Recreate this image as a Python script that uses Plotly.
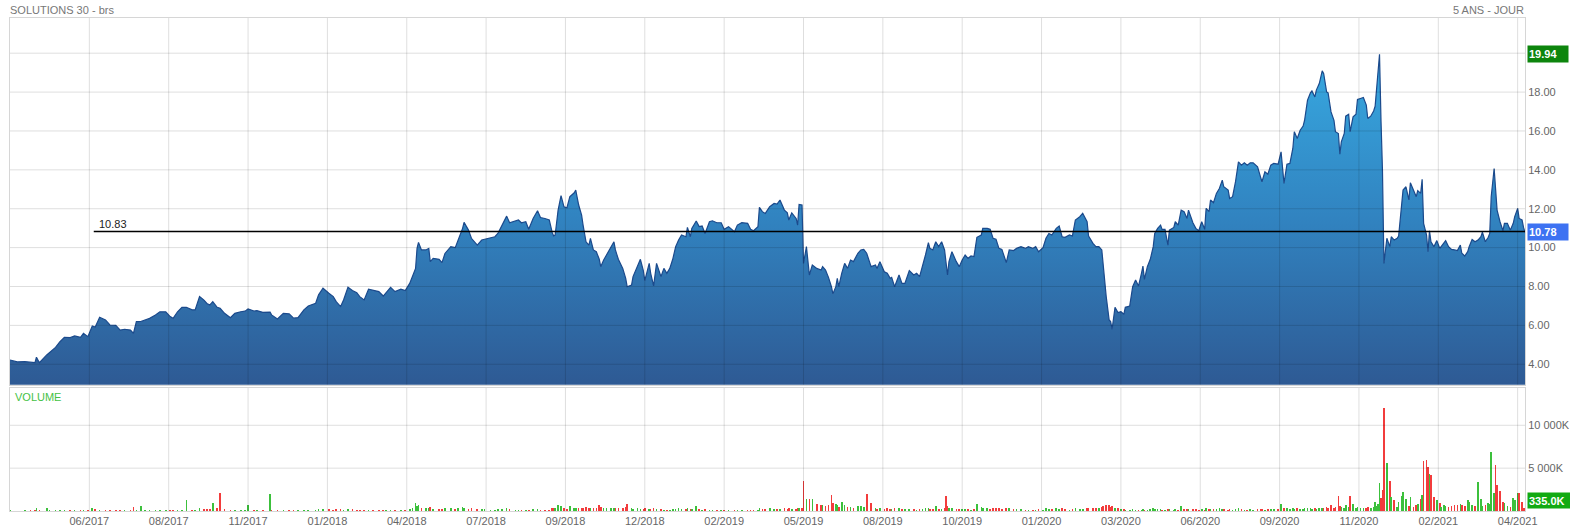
import plotly.graph_objects as go

# ---------------- data ----------------
session = [
    0, 5, 10, 14, 17, 18, 20, 25, 27, 31,
    34, 37, 41, 44, 48, 50, 53, 56, 58, 61,
    65, 68, 72, 75, 78, 82, 84, 86, 89, 92,
    95, 99, 102, 106, 109, 111, 114, 117, 120, 124,
    126, 129, 132, 134, 136, 138, 141, 143, 146, 150,
    153, 157, 160, 162, 166, 168, 172, 177, 178, 182,
    186, 190, 193, 196, 200, 203, 208, 210, 213, 217,
    220, 222, 225, 227, 230, 233, 236, 238, 241, 244,
    247, 251, 254, 256, 259, 262, 266, 269, 272, 274,
    276, 277, 278, 280, 283, 285, 286, 288, 292, 294,
    296, 300, 303, 305, 308, 309, 312, 314, 318, 321,
    323, 327, 330, 332, 335, 338, 340, 344, 346, 348,
    351, 353, 356, 359, 361, 364, 367, 369, 370, 371,
    373, 375, 377, 379, 381, 384, 385, 387, 389, 390,
    392, 394, 395, 397, 399, 401, 402, 404, 406, 409,
    411, 412, 414, 417, 419, 420, 423, 424, 427, 429,
    431, 432, 435, 436, 438, 440, 443, 445, 447, 449,
    451, 453, 455, 457, 460, 461, 463, 464, 467, 469,
    471, 473, 476, 478, 481, 484, 486, 489, 493, 495,
    498, 502, 504, 506, 509, 510, 512, 514, 517, 520,
    522, 524, 527, 529, 530, 532, 535, 536, 537, 539,
    540, 542, 544, 546, 549, 552, 553, 555, 557, 559,
    560, 562, 563, 564, 566, 568, 570, 572, 574, 577,
    579, 581, 583, 586, 589, 590, 592, 595, 597, 599,
    600, 602, 605, 607, 609, 612, 615, 617, 619, 621,
    623, 625, 626, 628, 630, 632, 634, 636, 637, 638,
    639, 641, 644, 646, 648, 650, 652, 654, 656, 658,
    661, 662, 665, 667, 669, 671, 673, 675, 678, 680,
    683, 685, 688, 691, 693, 696, 698, 700, 703, 705,
    707, 709, 712, 714, 716, 718, 721, 723, 725, 728,
    730, 733, 734, 737, 739, 741, 743, 744, 746, 748,
    749, 750, 752, 754, 756, 758, 759, 762, 764, 766,
    768, 770, 771, 772, 774, 776, 778, 779, 781, 783,
    784, 786, 788, 789, 792, 793, 795, 797, 799, 801,
    802, 805, 807, 809, 811, 813, 814, 816, 817, 819,
    821, 823, 825, 826, 829, 830, 832, 834, 836, 838,
    840, 842, 844, 846, 849, 851, 852, 854, 856, 858,
    860, 863, 865, 867, 869, 871, 873, 874, 876, 878,
    880, 881, 883, 885, 886, 888, 889, 891, 893, 894,
    896, 897, 899, 901, 902, 904, 905, 906, 908, 909,
    911, 912, 914, 916, 917, 919, 921, 923, 924, 926,
    928, 929, 930, 931, 932, 933, 934, 935, 937, 939,
    940, 942, 944, 945, 947, 948, 950, 952, 953, 955,
    957, 958, 960, 961, 962, 964, 965, 966, 967, 969,
    971, 973, 974, 976, 977, 979, 981, 983, 985, 987,
    988, 990, 992, 993, 995, 997, 999, 1001, 1002, 1004,
    1006, 1007, 1008, 1010, 1011, 1012, 1014, 1016, 1017, 1019,
    1021, 1023, 1024, 1026, 1027, 1029, 1030, 1031,
]

close = [
    4.22, 4.12, 4.14, 4.10, 4.08, 4.36, 4.08, 4.48, 4.60, 4.87,
    5.16, 5.39, 5.37, 5.46, 5.39, 5.59, 5.42, 5.97, 5.92, 6.42,
    6.28, 6.02, 6.00, 5.76, 5.80, 5.76, 5.59, 6.19, 6.20, 6.28,
    6.36, 6.53, 6.70, 6.70, 6.45, 6.36, 6.70, 6.93, 6.93, 6.80,
    6.80, 7.48, 7.30, 7.13, 7.05, 7.22, 6.93, 6.88, 6.62, 6.40,
    6.62, 6.70, 6.73, 6.85, 6.74, 6.76, 6.67, 6.68, 6.54, 6.33,
    6.62, 6.59, 6.37, 6.40, 6.80, 7.00, 7.14, 7.57, 7.91, 7.65,
    7.48, 7.22, 6.97, 7.31, 7.96, 7.79, 7.68, 7.48, 7.31, 7.86,
    7.82, 7.74, 7.51, 7.68, 7.96, 7.74, 7.86, 7.79, 8.16, 8.54,
    8.93, 9.96, 10.27, 9.88, 9.88, 9.96, 9.28, 9.45, 9.40, 9.23,
    9.70, 10.05, 10.00, 10.39, 10.99, 11.30, 10.90, 10.48, 10.13, 10.39,
    10.42, 10.48, 10.56, 10.73, 11.16, 11.62, 11.28, 11.37, 11.42, 11.28,
    11.33, 10.94, 11.50, 11.90, 11.55, 11.50, 11.42, 10.77, 10.60, 10.65,
    11.93, 12.67, 12.10, 12.05, 12.62, 12.82, 12.96, 12.19, 11.67, 11.16,
    10.30, 10.13, 10.48, 9.88, 9.79, 9.40, 9.02, 9.36, 9.62, 10.00,
    10.30, 9.88, 9.40, 8.93, 8.42, 7.99, 8.08, 8.51, 9.02, 9.40,
    8.82, 8.30, 9.19, 8.68, 8.03, 9.19, 8.51, 8.93, 8.68, 8.93,
    9.40, 10.05, 10.39, 10.65, 10.56, 11.04, 10.56, 10.99, 11.37, 11.08,
    11.11, 10.73, 11.33, 11.38, 11.28, 11.28, 10.94, 11.08, 10.82, 11.16,
    11.28, 11.25, 10.94, 10.87, 11.08, 12.07, 11.85, 11.76, 12.10, 12.27,
    12.24, 12.45, 11.93, 11.79, 11.42, 11.79, 11.50, 11.16, 12.22, 12.19,
    9.19, 10.05, 8.59, 9.11, 8.93, 8.85, 9.02, 8.85, 8.47, 7.99,
    7.62, 7.99, 8.42, 7.99, 8.68, 9.19, 8.93, 9.36, 9.28, 9.71,
    9.88, 9.91, 9.71, 9.02, 9.11, 8.93, 9.28, 8.76, 8.68, 8.42,
    8.47, 7.99, 8.59, 8.16, 8.16, 8.82, 8.59, 8.68, 8.51, 9.02,
    9.62, 10.25, 9.96, 9.88, 10.30, 10.05, 10.30, 9.88, 9.33, 8.59,
    9.28, 9.79, 9.28, 9.02, 9.36, 9.62, 9.45, 9.57, 9.54, 10.53,
    10.65, 10.99, 10.99, 10.94, 10.48, 10.43, 9.96, 9.91, 9.23, 9.88,
    9.85, 9.96, 10.05, 9.96, 10.05, 9.96, 10.05, 9.79, 10.00, 10.48,
    10.73, 10.65, 10.99, 11.11, 10.56, 10.53, 10.65, 10.60, 11.42, 11.59,
    11.76, 11.33, 10.60, 10.22, 10.05, 10.05, 9.88, 9.02, 7.48, 6.28,
    6.20, 5.80, 6.93, 6.66, 6.71, 6.57, 6.93, 7.00, 7.99, 8.34,
    8.03, 8.68, 9.05, 8.37, 9.02, 9.40, 10.05, 10.73, 10.99, 11.16,
    10.94, 10.94, 10.13, 10.90, 11.04, 11.33, 11.16, 11.93, 11.85, 11.50,
    11.93, 11.28, 10.99, 10.87, 11.33, 10.94, 12.02, 11.85, 12.45, 12.31,
    12.79, 13.04, 13.47, 13.13, 12.96, 12.53, 12.62, 13.39, 14.41, 14.24,
    14.36, 14.24, 14.36, 14.36, 14.16, 13.64, 13.39, 13.90, 13.78, 14.24,
    14.33, 14.29, 14.93, 13.30, 14.29, 14.33, 15.10, 15.96, 15.61, 16.04,
    16.25, 16.55, 17.58, 17.96, 18.06, 17.75, 18.10, 18.44, 19.09, 18.95,
    18.01, 17.96, 16.98, 16.55, 15.96, 15.87, 14.81, 15.44, 15.87, 16.76,
    16.86, 15.96, 16.73, 16.86, 17.62, 17.67, 17.72, 17.33, 16.64, 16.76,
    17.03, 17.27, 18.27, 19.16, 19.94, 16.55, 13.99, 9.19, 10.48, 10.05,
    10.56, 10.39, 10.48, 10.60, 12.36, 12.96, 13.13, 12.45, 13.34, 12.96,
    12.62, 12.93, 12.79, 13.51, 11.25, 10.65, 9.79, 10.87, 10.30, 10.05,
    10.36, 9.96, 10.05, 10.22, 10.36, 10.05, 9.91, 9.88, 9.85, 10.13,
    9.71, 9.57, 9.79, 10.05, 10.42, 10.30, 10.39, 10.56, 10.80, 10.30,
    10.53, 10.73, 12.62, 14.07, 13.04, 11.93, 11.33, 10.87, 11.25, 11.25,
    10.90, 11.25, 11.59, 12.02, 11.50, 11.42, 11.04, 10.78,
]

volume_k = [
    60, 50, 70, 60, 80, 390, 120, 350, 150, 90,
    110, 160, 90, 120, 80, 70, 90, 300, 250, 130,
    100, 80, 90, 70, 80, 90, 460, 120, 580, 90,
    80, 60, 70, 80, 90, 100, 120, 90, 1240, 100,
    150, 300, 200, 250, 200, 970, 300, 2090, 250, 150,
    120, 100, 100, 660, 150, 120, 100, 2000, 150, 100,
    120, 90, 80, 90, 100, 150, 120, 200, 250, 200,
    150, 180, 200, 150, 250, 200, 150, 120, 130, 150,
    100, 90, 80, 90, 110, 100, 90, 120, 200, 300,
    970, 600, 660, 400, 350, 300, 500, 250, 200, 250,
    400, 300, 250, 300, 450, 400, 250, 300, 200, 250,
    200, 150, 120, 200, 250, 300, 200, 150, 120, 100,
    120, 150, 200, 250, 150, 120, 150, 300, 400, 350,
    660, 600, 300, 250, 550, 400, 350, 300, 350, 400,
    450, 400, 300, 350, 400, 740, 450, 350, 300, 300,
    350, 300, 350, 400, 450, 810, 300, 250, 300, 200,
    250, 300, 250, 200, 300, 250, 200, 150, 150, 120,
    200, 250, 300, 250, 200, 300, 200, 250, 540, 200,
    150, 200, 150, 120, 100, 120, 150, 100, 120, 150,
    120, 100, 150, 120, 150, 400, 250, 200, 300, 250,
    200, 250, 300, 250, 300, 200, 250, 300, 400, 350,
    3450, 1430, 1360, 1400, 850, 700, 650, 600, 650, 1820,
    900, 800, 700, 500, 1050, 700, 500, 450, 400, 550,
    600, 500, 1940, 970, 300, 250, 300, 250, 300, 250,
    200, 350, 300, 250, 200, 250, 200, 150, 200, 250,
    300, 350, 250, 200, 600, 250, 200, 300, 1700, 600,
    400, 300, 250, 250, 200, 200, 200, 150, 200, 850,
    500, 400, 300, 250, 350, 300, 350, 250, 400, 300,
    200, 250, 200, 150, 120, 150, 120, 200, 150, 300,
    250, 200, 300, 250, 300, 200, 150, 200, 300, 250,
    250, 300, 400, 350, 300, 400, 450, 550, 740, 650,
    500, 600, 400, 300, 250, 200, 150, 150, 200, 150,
    120, 150, 200, 150, 150, 200, 300, 250, 200, 200,
    150, 120, 250, 200, 150, 200, 150, 600, 200, 250,
    200, 250, 200, 150, 200, 150, 300, 200, 250, 200,
    250, 300, 250, 200, 150, 200, 150, 250, 300, 200,
    150, 150, 200, 150, 200, 250, 200, 150, 200, 250,
    200, 200, 780, 400, 300, 200, 300, 250, 300, 200,
    250, 300, 350, 300, 250, 300, 250, 300, 350, 300,
    450, 400, 660, 400, 500, 1700, 600, 500, 400, 700,
    500, 1700, 800, 400, 500, 300, 350, 400, 450, 400,
    500, 1050, 600, 800, 3260, 1500, 2500, 11980, 5580, 3450,
    1630, 1240, 500, 1050, 1700, 2210, 1430, 600, 1630, 500,
    700, 800, 1430, 1820, 5810, 6000, 5120, 4340, 4150, 1630,
    1240, 970, 500, 700, 600, 500, 600, 700, 650, 800,
    700, 600, 1240, 1000, 700, 600, 3330, 1430, 600, 700,
    900, 800, 6940, 2090, 5390, 2980, 2330, 1000, 900, 600,
    500, 1550, 1240, 2090, 2090, 1050, 400, 335,
]

tick_sessions = [54, 108, 162, 216, 270, 324, 378, 432, 486, 540,
                 594, 648, 702, 756, 810, 864, 918, 972, 1026]
tick_labels = ["06/2017", "08/2017", "11/2017", "01/2018", "04/2018",
               "07/2018", "09/2018", "12/2018", "02/2019", "05/2019",
               "08/2019", "10/2019", "01/2020", "03/2020", "06/2020",
               "09/2020", "11/2020", "02/2021", "04/2021"]

price_ticks = [4, 6, 8, 10, 12, 14, 16, 18, 20]
volume_ticks = [5000, 10000]
volume_tick_labels = ["5 000K", "10 000K"]

ref_level = 10.83
ref_start_session = 57
period_high = 19.94

# ---------------- styling ----------------
FONT = "Liberation Sans, Arial, sans-serif"
GREEN = "#3cc03c"
RED = "#f23c3c"
GRID = "rgba(0,0,0,0.13)"
BORDER = "#d6d6d6"

price_range = [2.95, 21.81]
volume_range = [0, 14350]
x_range = [session[0], session[-1]]

bar_colors = [GREEN if i == 0 or close[i] >= close[i - 1] else RED
              for i in range(len(close))]

fig = go.Figure()

fig.add_trace(go.Scatter(
    x=session, y=close, mode="lines",
    line=dict(color="#1b4a8c", width=1.2),
    fill="tozeroy",
    fillgradient=dict(type="vertical", start=price_range[0], stop=20,
                      colorscale=[[0, "#2e5a94"], [0.5, "#3183c0"], [1, "#37a9e1"]]),
    xaxis="x", yaxis="y", hoverinfo="skip", showlegend=False,
))

fig.add_trace(go.Bar(
    x=session, y=volume_k, width=1.1,
    marker=dict(color=bar_colors, line=dict(width=0)),
    xaxis="x2", yaxis="y2", hoverinfo="skip", showlegend=False,
))

shapes = []
for v in price_ticks:
    shapes.append(dict(type="line", xref="paper", x0=0, x1=1, yref="y", y0=v, y1=v,
                       line=dict(color=GRID, width=1), layer="above"))
for v in volume_ticks:
    shapes.append(dict(type="line", xref="paper", x0=0, x1=1, yref="y2", y0=v, y1=v,
                       line=dict(color=GRID, width=1), layer="above"))
for t in tick_sessions:
    shapes.append(dict(type="line", xref="x", x0=t, x1=t, yref="y domain", y0=0, y1=1,
                       line=dict(color=GRID, width=1), layer="above"))
    shapes.append(dict(type="line", xref="x2", x0=t, x1=t, yref="y2 domain", y0=0, y1=1,
                       line=dict(color=GRID, width=1), layer="above"))
shapes.append(dict(type="line", xref="x", x0=ref_start_session, x1=x_range[1],
                   yref="y", y0=ref_level, y1=ref_level,
                   line=dict(color="#000000", width=1.3), layer="above"))

annotations = [
    dict(text="SOLUTIONS 30 - brs", xref="paper", yref="paper", x=0, y=1,
         xanchor="left", yanchor="bottom", xshift=-2, yshift=0, showarrow=False,
         font=dict(family=FONT, size=11, color="#777777")),
    dict(text="5 ANS - JOUR", xref="paper", yref="paper", x=1, y=1,
         xanchor="right", yanchor="bottom", xshift=1, yshift=0, showarrow=False,
         font=dict(family=FONT, size=11, color="#777777")),
    dict(text="VOLUME", xref="paper", yref="y2 domain", x=0, y=1,
         xanchor="left", yanchor="top", xshift=3, yshift=-1, showarrow=False,
         font=dict(family=FONT, size=11, color="#45c245")),
    dict(text=f"{ref_level:.2f}", xref="x", yref="y", x=ref_start_session, y=ref_level,
         xanchor="left", yanchor="bottom", xshift=3, yshift=-1, showarrow=False,
         font=dict(family=FONT, size=11, color="#222222")),
    dict(text=f"<b>{period_high:.2f}</b>", xref="paper", yref="y", x=1, y=period_high,
         xanchor="left", yanchor="middle", xshift=2, showarrow=False, align="left",
         width=38, height=14, bgcolor="#0d850d", borderpad=1,
         font=dict(family=FONT, size=11, color="#ffffff")),
    dict(text=f"<b>{close[-1]:.2f}</b>", xref="paper", yref="y", x=1, y=close[-1],
         xanchor="left", yanchor="middle", xshift=2, showarrow=False, align="left",
         width=38, height=14, bgcolor="#3d72f2", borderpad=1,
         font=dict(family=FONT, size=11, color="#ffffff")),
    dict(text=f"<b>{volume_k[-1]:.1f}K</b>", xref="paper", yref="y2 domain", x=1, y=0,
         xanchor="left", yanchor="bottom", xshift=2, yshift=2, showarrow=False, align="left",
         width=40, height=13, bgcolor="#12aa12", borderpad=1,
         font=dict(family=FONT, size=11, color="#ffffff")),
]

common_axis = dict(showgrid=False, zeroline=False, showline=True, mirror=True,
                   linecolor=BORDER, linewidth=1, ticks="", automargin=False)

fig.update_layout(
    width=1570, height=530,
    margin=dict(l=10, r=45, t=18, b=19, autoexpand=False),
    paper_bgcolor="#ffffff", plot_bgcolor="#ffffff",
    font=dict(family=FONT, size=10, color="#666666"),
    showlegend=False, bargap=0,
    hovermode=False,
    shapes=shapes, annotations=annotations,
    xaxis=dict(domain=[0, 1], range=x_range, anchor="y",
               showticklabels=False, **common_axis),
    yaxis=dict(domain=[0.2562, 1], range=price_range, side="right", anchor="x",
               tickvals=price_ticks, ticktext=[f"{v:.2f}" for v in price_ticks],
               tickfont=dict(family=FONT, size=11, color="#666666"), **common_axis),
    xaxis2=dict(domain=[0, 1], range=x_range, anchor="y2", matches="x",
                tickvals=tick_sessions, ticktext=tick_labels,
                tickfont=dict(family=FONT, size=11, color="#666666"), **common_axis),
    yaxis2=dict(domain=[0, 0.2495], range=volume_range, side="right", anchor="x2",
                tickvals=volume_ticks, ticktext=volume_tick_labels,
                tickfont=dict(family=FONT, size=11, color="#666666"), **common_axis),
)

fig.write_html(
    "out.html",
    config={"displayModeBar": False, "staticPlot": True},
    post_script="document.documentElement.style.margin='0';"
                "document.body.style.margin='0';document.body.style.padding='0';"
                "document.body.style.overflow='hidden';",
)
